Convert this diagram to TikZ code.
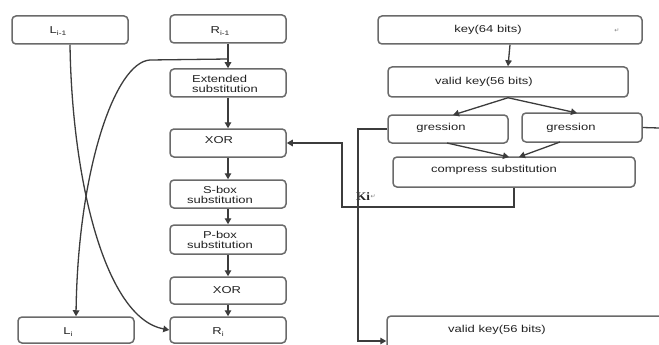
\documentclass[tikz,border=0pt]{standalone}
\usepackage{fontspec}
\setmainfont{Liberation Sans}[FakeStretch=1.3]
\newfontfamily\symfont{DejaVu Sans}
\newfontfamily\kifont{Liberation Serif}[FakeStretch=1.15]
\usetikzlibrary{arrows.meta}
\definecolor{boxline}{HTML}{6A6A6A}
\definecolor{conn}{HTML}{3C3C3C}
\definecolor{txt}{HTML}{222222}
\tikzset{
  box/.style={draw=boxline, line width=1.5pt, rounded corners=4pt, fill=white, inner sep=0pt},
  lbl/.style={text=txt, font=\fontsize{10}{11.5}\selectfont, inner sep=0pt},
  conn/.style={draw=conn, line width=1.3pt},
  arr/.style={conn, -{Triangle[length=6pt,width=6.5pt]}},
  retsym/.style={text=gray, font=\symfont\fontsize{6}{7}\selectfont, inner sep=0pt}
}
\newcommand{\sub}[1]{\raisebox{-2pt}{\fontsize{6.5}{7}\selectfont #1}}
\begin{document}
\begin{tikzpicture}[x=1pt,y=-1pt]
\useasboundingbox (0,0) rectangle (659,345);
\clip (0,0) rectangle (659,345);
% left column boxes
\node[box, minimum width=116pt, minimum height=28pt] (L0) at (70,30) {};
\node[box, minimum width=116pt, minimum height=28pt] (R0) at (228,29) {};
\node[box, minimum width=116pt, minimum height=28pt] (E) at (228,83) {};
\node[box, minimum width=116pt, minimum height=28pt] (X1) at (228,143) {};
\node[box, minimum width=116pt, minimum height=28pt] (S) at (228,194) {};
\node[box, minimum width=116pt, minimum height=29pt] (P) at (228,239.5) {};
\node[box, minimum width=116pt, minimum height=27pt] (X2) at (228,290.5) {};
\node[box, minimum width=116pt, minimum height=26pt] (Li) at (76,330) {};
\node[box, minimum width=116pt, minimum height=26pt] (Ri) at (228,330) {};
% labels left
\node[lbl] (tL0) at (58,31) {L\sub{i-1}};
\node[lbl] (tR0) at (220,31) {R\sub{i-1}};
\node[lbl, align=left, anchor=west, font=\fontsize{10}{10.5}\selectfont] (tE) at (192,84) {Extended\\substitution};
\node[lbl] (tX1) at (219,140) {XOR};
\node[lbl, align=center, font=\fontsize{10}{10.5}\selectfont] (tS) at (220,195) {S-box\\substitution};
\node[lbl, align=center, font=\fontsize{10}{10.5}\selectfont] (tP) at (220,240) {P-box\\substitution};
\node[lbl] (tX2) at (227,290) {XOR};
\node[lbl] (tLi) at (68,332) {L\sub{i}};
\node[lbl] (tRi) at (218,332) {R\sub{i}};
% right column boxes
\node[box, minimum width=264pt, minimum height=28pt] (K) at (510,30) {};
\node[box, minimum width=240pt, minimum height=30pt] (V) at (508,82) {};
\node[box, minimum width=120pt, minimum height=28pt] (G1) at (448,129) {};
\node[box, minimum width=120pt, minimum height=29pt] (G2) at (582,127.5) {};
\node[box, minimum width=242pt, minimum height=30pt] (CS) at (514,172) {};
\node[box, minimum width=300pt, minimum height=60pt] (V2) at (537,346) {};
% labels right
\node[lbl] (tK) at (488,30) {key(64 bits)};
\node[retsym] (rK) at (617,31) {↵};
\node[lbl] (tV) at (484,82) {valid key(56 bits)};
\node[lbl] (tG1) at (441,128) {gression};
\node[lbl] (tG2) at (571,128) {gression};
\node[lbl] (tCS) at (494,170) {compress substitution};
\node[lbl, anchor=west, text=txt, font=\kifont\bfseries\fontsize{11.5}{12}\selectfont] (tKi) at (356,197) {Ki};
\node[retsym, anchor=west] (rKi) at (tKi.east) {↵};
\node[lbl] (tV2) at (497,330) {valid key(56 bits)};
% connectors left column
\coordinate (j) at (228,59);
\draw[arr] (R0.south) -- (E.north);
\draw[arr] (E.south) -- (X1.north);
\draw[arr] (X1.south) -- (S.north);
\draw[arr] (S.south) -- (P.north);
\draw[arr] (P.south) -- (X2.north);
\draw[arr] (X2.south) -- (Ri.north);
\draw[arr] (L0.south) .. controls (72,180) and (105,318) .. (Ri.west);
\draw[arr] (j) -- (150,60) .. controls (115,62) and (78,170) .. (Li.north);
% right column connectors
\draw[arr] (K.south) -- (V.north);
\draw[arr] (V.south) -- (453,115);
\draw[arr] (V.south) -- (577,113);
\draw[arr] (447,143) -- (509,157);
\draw[arr] (560,142) -- (519,157);
\coordinate (kiL) at (342,207);
\draw[arr] (CS.south) |- (kiL) |- (X1.east);
\coordinate (gd) at (358,341);
\draw[arr] (G1.west) -| (gd) -- (gd -| V2.west);
\coordinate (gr) at (659,128);
\draw[conn] (G2.east) -- (gr);
\end{tikzpicture}
\end{document}
